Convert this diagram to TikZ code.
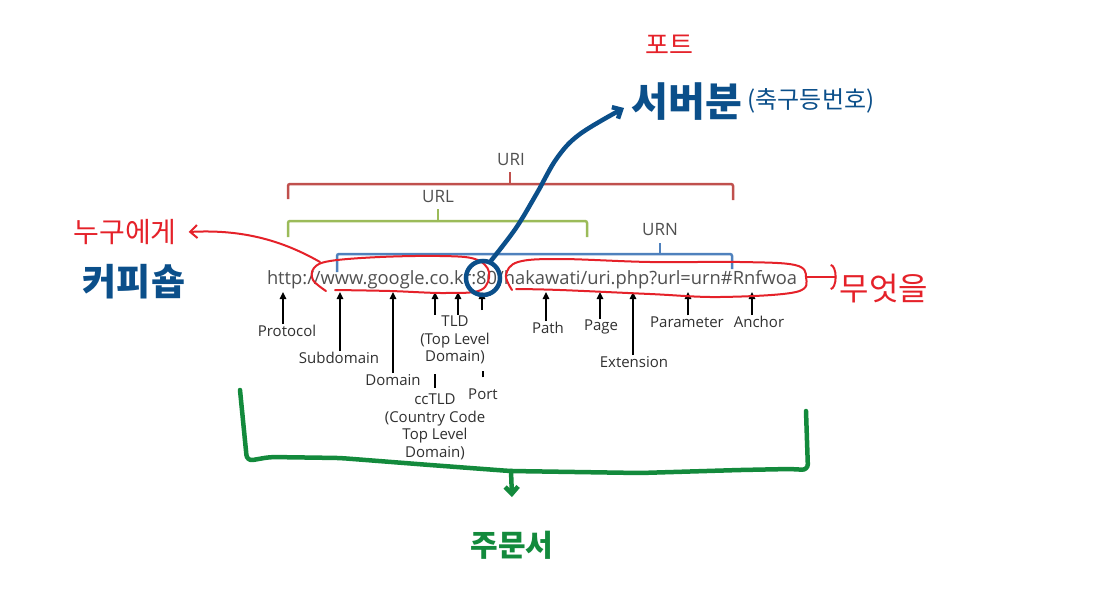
\documentclass[tikz,border=0pt]{standalone}
\usepackage{fontspec}
\setmainfont{Open Sans}
\newfontfamily\kr{Noto Sans CJK KR}
\usetikzlibrary{arrows.meta}
\definecolor{brred}{HTML}{C0504D}
\definecolor{brgreen}{HTML}{9BBB59}
\definecolor{brblue}{HTML}{4F81BD}
\definecolor{hred}{HTML}{E52129}
\definecolor{hblue}{HTML}{0B4F8A}
\definecolor{hgreen}{HTML}{138A3C}
\definecolor{urlgray}{HTML}{505050}
\definecolor{lblgray}{HTML}{303030}
\tikzset{
  lbl/.style={font=\fontsize{15}{17.6}\selectfont, text=lblgray, align=center, inner sep=1pt},
  brlbl/.style={font=\fontsize{17}{17}\selectfont, text=urlgray, inner sep=0pt},
  brk/.style={line width=2.5pt, rounded corners=2pt},
  uparr/.style={-{Triangle[length=7pt,width=6.5pt]}, line width=1.5pt, black},
  tickline/.style={line width=1.5pt, black},
  hand/.style={line cap=round, line join=round},
  hbarb/.style={-{Straight Barb[length=7pt,width=13pt]}},
}
\begin{document}
\begin{tikzpicture}[x=1pt,y=-1pt]
\fill[white] (0,0) rectangle (1112,600);
\useasboundingbox (0,0) rectangle (1112,600);

% URL text
\node[inner sep=0pt, text=urlgray] (url) at (532,280)
  {\resizebox{530pt}{!}{http://www.google.co.kr:80/hakawati/uri.php?url=urn\#Rnfwoa}};

% brackets
\draw[brk, brred] (288,199) |- (733,184) -- (733,200);
\draw[brk, brred] (510,185) -- (510,172);
\node[brlbl] (uri) at (511,160) {URI};
\draw[brk, brgreen] (288,237) |- (587,221) -- (587,237);
\draw[brk, brgreen] (438,222) -- (438,209);
\node[brlbl] (urlL) at (438,197) {URL};
\draw[brk, brblue] (337,272) |- (732,254) -- (732,269);
\draw[brk, brblue] (660,255) -- (660,243);
\node[brlbl] (urn) at (660,230) {URN};

% labels
\node[lbl] (prot) at (287,331) {Protocol};
\node[lbl] (sub) at (339,358) {Subdomain};
\node[lbl] (dom) at (393,380) {Domain};
\node[lbl] (tld) at (455,340) {TLD\\(Top Level\\Domain)};
\node[lbl] (cctld) at (435,427) {ccTLD\\(Country Code\\Top Level\\Domain)};
\node[lbl] (port) at (483,394) {Port};
\node[lbl] (path) at (548,328) {Path};
\node[lbl] (page) at (601,327) {Page};
\node[lbl] (ext) at (634,362) {Extension};
\node[lbl] (param) at (687,322) {Parameter};
\node[lbl] (anchor) at (759,322) {Anchor};

% arrow tips on the URL
\coordinate (tProt) at (283,292);
\coordinate (tSub) at (340,292);
\coordinate (tDom) at (393,292);
\coordinate (tTldA) at (435,292);
\coordinate (tTldB) at (458,292);
\coordinate (tPort) at (482,292);
\coordinate (tPath) at (546,292);
\coordinate (tPage) at (600,292);
\coordinate (tExt) at (633,292);
\coordinate (tParam) at (688,292);
\coordinate (tAnchor) at (752,292);
\coordinate (sPort) at (482,310);

\draw[uparr] (prot.north -| tProt) -- (tProt);
\draw[uparr] (sub.north -| tSub) -- (tSub);
\draw[uparr] (dom.north -| tDom) -- (tDom);
\draw[uparr] (tld.north -| tTldA) -- (tTldA);
\draw[uparr] (tld.north -| tTldB) -- (tTldB);
\draw[uparr] (sPort) -- (tPort);
\draw[uparr] (path.north -| tPath) -- (tPath);
\draw[uparr] (page.north -| tPage) -- (tPage);
\draw[uparr] (ext.north -| tExt) -- (tExt);
\draw[uparr] (param.north -| tParam) -- (tParam);
\draw[uparr] (anchor.north -| tAnchor) -- (tAnchor);
\draw[tickline] ([yshift=5pt]cctld.north) -- ([yshift=19pt]cctld.north);
\draw[tickline] ([yshift=10pt]port.north) -- ([yshift=16pt]port.north);

% handwritten Korean
\node[text=hred, font=\kr\fontsize{26}{26}\selectfont, inner sep=0pt] (porto) at (669,45) {포트};
\node[text=hblue, font=\kr\bfseries\fontsize{40}{40}\selectfont, inner sep=0pt] (server) at (687,102) {서버분};
\node[text=hblue, font=\kr\fontsize{24}{24}\selectfont, inner sep=0pt] (jersey) at (811,101) {(축구등번호)};
\node[text=hred, font=\kr\fontsize{28}{28}\selectfont, inner sep=0pt] (whom) at (125,232) {누구에게};
\node[text=hblue, font=\kr\bfseries\fontsize{37}{37}\selectfont, inner sep=0pt] (cafe) at (134,282) {커피숍};
\node[text=hred, font=\kr\fontsize{32}{32}\selectfont, inner sep=0pt] (what) at (884,288) {무엇을};
\node[text=hgreen, font=\kr\bfseries\fontsize{30}{30}\selectfont, inner sep=0pt] (order) at (512,545) {주문서};

% red loop 1 and leader to "whom"
\coordinate (loopA) at (320,262);
\draw[hand, hred, line width=2pt] plot[smooth, tension=0.6] coordinates
  {(326,291) (313,280) (314,268) (330,261) (380,257) (440,256) (475,259) (489,272) (481,290) (445,293) (390,291) (335,290)};
\draw[hand, hred, line width=2pt, hbarb] (loopA) .. controls (285,242) and (245,229) .. ([xshift=12pt]whom.east);

% red loop 2 and leader to "what"
\coordinate (loopB) at (806,277);
\draw[hand, hred, line width=2pt] plot[smooth, tension=0.6] coordinates
  {(512,290) (506,275) (518,262) (560,259) (650,262) (740,262) (795,265) (806,277) (796,292) (720,297) (650,294) (560,290) (516,289)};
\draw[hand, hred, line width=2pt, -{Arc Barb[length=6pt,width=26pt]}] (loopB) -- ([xshift=-3pt]what.west |- loopB);

% blue circle around :80 and arrow to server
\node[circle, draw=hblue, line width=4.5pt, minimum size=34pt, inner sep=0pt] (p80) at (483,278) {};
\draw[hand, hblue, line width=4.5pt, hbarb] plot[smooth, tension=0.6] coordinates
  {(p80.65) (516,228) (537,193) (557,158) (580,134) (624,108)};

% green bracket and arrow to order
\draw[hand, hgreen, line width=4.5pt, rounded corners=6pt]
  (240,390) -- (247,461) -- (270,457) -- (340,458) -- (430,465) -- (510,471)
  -- (640,473) -- (740,470) -- (790,469) -- (808,470) -- (806,411);
\coordinate (gtick) at (511,471);
\coordinate (gend) at (512,497);
\draw[hand, hgreen, line width=4.5pt, hbarb] (gtick) -- (gend);
\end{tikzpicture}
\end{document}
